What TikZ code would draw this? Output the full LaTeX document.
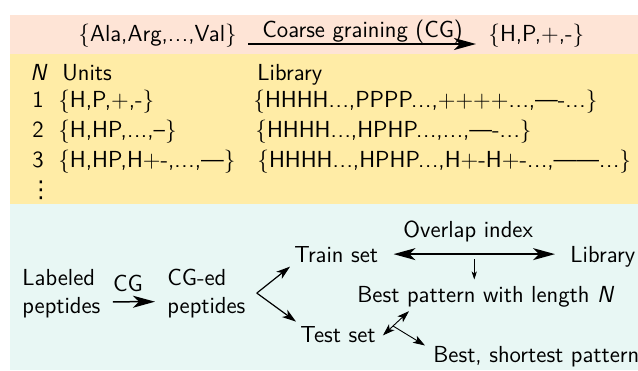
\documentclass[tikz,border=0pt]{standalone}
\usepackage{fontspec}
\usepackage{tikz}
\usetikzlibrary{arrows.meta}
\newfontfamily\dejavu{DejaVu Sans}
\definecolor{cgpeach}{RGB}{254,228,214}
\definecolor{cgyellow}{RGB}{255,236,166}
\definecolor{cgcyan}{RGB}{232,247,244}
\newcommand\cgdots{.\kern.03em.\kern.03em.}
\begin{document}
\begin{tikzpicture}[x=0.5pt,y=-0.5pt,
	font=\sffamily\fontsize{11.6}{14}\selectfont,
	>={Stealth[length=11pt,width=6pt,inset=3pt]}]
	\tikzstyle{txt}=[anchor=base west,align=left,inner sep=2pt]
	\tikzstyle{bigflow}=[->,line width=0.75pt]
	\tikzstyle{midflow}=[->,line width=0.6pt,>={Stealth[length=7pt,width=4.5pt,inset=2pt]}]
	\tikzstyle{smallflow}=[line width=0.45pt,>={Stealth[length=6pt,width=4pt,inset=1.5pt]}]
	\tikzstyle{tinyflow}=[->,line width=0.4pt,>={Stealth[length=4pt,width=2.6pt,inset=1pt]}]

	\useasboundingbox (0,0) rectangle (638,370);
	% bands
	\fill[cgpeach] (10,15) rectangle (638,54);
	\fill[cgyellow] (10,54) rectangle (638,204);
	\fill[cgcyan] (10,204) rectangle (638,370);

	% coarse graining
	\node[txt] (aa) at (74,41) {\{Ala,Arg,\cgdots,Val\}};
	\node[txt] (hp) at (484,41) {\{H,P,+,-\}};
	\draw[bigflow,line width=1pt,shorten <=3.5pt,shorten >=4pt]
		([yshift=-1.5pt]aa.base east) -- ([yshift=-1.5pt]hp.base west)
		node[midway,above,inner sep=0pt] (cgl) {Coarse graining (CG)};

	% table
	\node[txt] (nh) at (26,80) {\textit{N}};
	\node[txt] (uh) at (58,80) {Units};
	\node[txt] (lh) at (253,80) {Library};
	\node[txt] (n1) at (28,107) {1};
	\node[txt] (u1) at (54,107) {\{H,P,+,-\}};
	\node[txt] (l1) at (249,107) {\{HHHH\cgdots,PPPP\cgdots,++++\cgdots,----\cgdots\}};
	\node[txt] (n2) at (28,137) {2};
	\node[txt] (u2) at (54,137) {\{H,HP,\cgdots,--\}};
	\node[txt] (l2) at (251,137) {\{HHHH\cgdots,HPHP\cgdots,\cgdots,----\cgdots\}};
	\node[txt] (n3) at (28,167) {3};
	\node[txt] (u3) at (54,167) {\{H,HP,H+-,\cgdots,---\}};
	\node[txt] (l3) at (253,167) {\{HHHH\cgdots,HPHP\cgdots,H+-H+-\cgdots,------\cgdots\}};
	\node[txt,inner sep=0pt] (nd) at (29,197) {\dejavu ⋮};

	% pipeline
	\node[txt] (lab) at (18,313) {Labeled\\peptides};
	\node[txt] (cged) at (163,313) {CG-ed\\peptides};
	\draw[bigflow,shorten <=4pt,shorten >=4pt]
		([yshift=-4.3pt]lab.east) -- ([yshift=-4.3pt]cged.west)
		node[midway,above=1.5pt,xshift=-3pt] (cg) {CG};
	\coordinate (fork) at ([xshift=3.5pt]cged.east);
	\node[txt] (train) at (290,262) {Train set};
	\node[txt] (test) at (296,342) {Test set};
	\draw[midflow] (fork) -- (train.south west);
	\draw[midflow] (fork) -- (test.north west);

	\node[txt] (lib) at (566,262) {Library};
	\node[txt] (ov) at (399,237) {Overlap index};
	\draw[bigflow,<->,shorten <=5.5pt,shorten >=5.5pt]
		(train.east) -- (train.east -| lib.west) coordinate[midway] (ovmid);
	\node[txt] (best) at (353,302) {Best pattern with length \textit{N}};
	\draw[tinyflow,shorten <=2.5pt,shorten >=1pt] (ovmid) -- (ovmid |- best.north);

	\node[txt] (short) at (429,362) {Best, shortest pattern};
	\draw[smallflow,<->,shorten <=2pt]
		([yshift=-2pt]test.east) -- ([xshift=28pt]best.south west) coordinate[pos=0.45] (split);
	\draw[smallflow,->] (split) -- ([xshift=-2pt,yshift=-2pt]short.north west);
\end{tikzpicture}
\end{document}
